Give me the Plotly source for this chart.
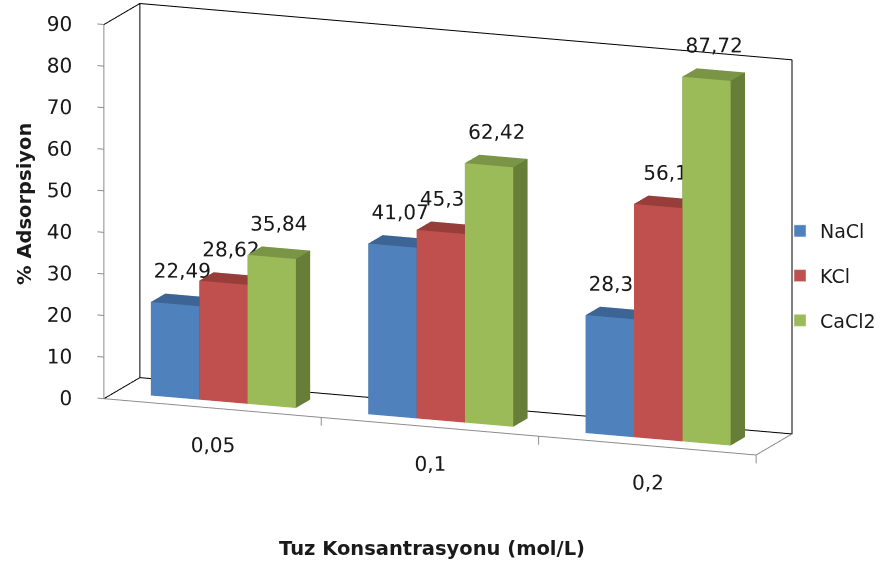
import numpy as np
import plotly.graph_objects as go

# ---- data ----
categories = ["0,05", "0,1", "0,2"]
series_names = ["NaCl", "KCl", "CaCl2"]
nacl = [22.49, 41.07, 28.37]
kcl = [28.62, 45.35, 56.1]
cacl2 = [35.84, 62.42, 87.72]
value_ticks = [0, 10, 20, 30, 40, 50, 60, 70, 80, 90]

series_values = [nacl, kcl, cacl2]
front_colors = ["#4F81BD", "#C0504D", "#9BBB59"]
top_colors = ["#3C6595", "#973E3B", "#7B9546"]
side_colors = ["#385D8A", "#8C3A38", "#667E37"]

FONT = "DejaVu Sans"
TXT = "#1a1a1a"

# ---- geometry of the 3D clustered columns ----
n_cat = len(categories)
bar_w = 1.0 / 4.5              # gap width 150 %
floor_d = 2.5 * bar_w          # gap depth 150 %
y0, y1 = floor_d / 2 - bar_w / 2, floor_d / 2 + bar_w / 2
x_lo, x_hi = -0.5, n_cat - 0.5
z_max = value_ticks[-1]
z_min = -10                    # room below the floor for category labels
x_pad = 0.1                    # room left of the value axis for its labels

# unit cube vertices and triangles
cube_v = np.array([[0, 0, 0], [1, 0, 0], [1, 1, 0], [0, 1, 0],
                   [0, 0, 1], [1, 0, 1], [1, 1, 1], [0, 1, 1]], float)
faces = {
    "front": [(0, 1, 5), (0, 5, 4)],
    "back": [(3, 2, 6), (3, 6, 7)],
    "top": [(4, 5, 6), (4, 6, 7)],
    "bottom": [(0, 1, 2), (0, 2, 3)],
    "right": [(1, 2, 6), (1, 6, 5)],
    "left": [(0, 3, 7), (0, 7, 4)],
}

fig = go.Figure()

for s, (name, vals) in enumerate(zip(series_names, series_values)):
    X, Y, Z, I, J, K, FC = [], [], [], [], [], [], []
    for c, v in enumerate(vals):
        bx0 = c - 1.5 * bar_w + s * bar_w
        base = len(X)
        for vx, vy, vz in cube_v:
            X.append(bx0 + vx * bar_w)
            Y.append(y0 + vy * (y1 - y0))
            Z.append(vz * v)
        for fname, tris in faces.items():
            col = {"top": top_colors[s], "right": side_colors[s],
                   "left": side_colors[s]}.get(fname, front_colors[s])
            for a, b, d in tris:
                I.append(base + a); J.append(base + b); K.append(base + d)
                FC.append(col)
    fig.add_trace(go.Mesh3d(
        x=X, y=Y, z=Z, i=I, j=J, k=K, facecolor=FC, flatshading=True,
        lighting=dict(ambient=1, diffuse=0, specular=0, roughness=1, fresnel=0),
        hoverinfo="skip", showlegend=False, name=name))

# value labels above the columns
lx, ly, lz, lt = [], [], [], []
for s, vals in enumerate(series_values):
    for c, v in enumerate(vals):
        lx.append(c - 1.5 * bar_w + (s + 0.5) * bar_w)
        ly.append((y0 + y1) / 2)
        lz.append(v)
        lt.append(f"{v:g}".replace(".", ","))
fig.add_trace(go.Scatter3d(
    x=lx, y=ly, z=lz, text=lt, mode="text", textposition="top center",
    textfont=dict(family=FONT, size=20, color=TXT),
    hoverinfo="skip", showlegend=False))


def seg(pts, color, width=2):
    xs, ys, zs = zip(*pts)
    fig.add_trace(go.Scatter3d(x=xs, y=ys, z=zs, mode="lines",
                               line=dict(color=color, width=width),
                               hoverinfo="skip", showlegend=False))


# walls and floor outline
BLACK, GRAY = "#000000", "#8c8c8c"
seg([(x_lo, floor_d, 0), (x_hi, floor_d, 0), (x_hi, floor_d, z_max),
     (x_lo, floor_d, z_max), (x_lo, floor_d, 0)], BLACK)
seg([(x_lo, 0, z_max), (x_lo, floor_d, z_max)], BLACK)
seg([(x_lo, 0, 0), (x_lo, floor_d, 0)], BLACK)
seg([(x_lo, 0, 0), (x_lo, 0, z_max)], GRAY)
seg([(x_lo, 0, 0), (x_hi, 0, 0), (x_hi, floor_d, 0)], GRAY)

# value axis ticks and labels
tick_dx = 0.03
for t in value_ticks:
    seg([(x_lo, 0, t), (x_lo - tick_dx, 0, t)], GRAY)
fig.add_trace(go.Scatter3d(
    x=[x_lo - 2 * tick_dx] * len(value_ticks), y=[0] * len(value_ticks),
    z=value_ticks, text=[str(t) for t in value_ticks], mode="text",
    textposition="middle left", textfont=dict(family=FONT, size=20, color=TXT),
    hoverinfo="skip", showlegend=False))

# category axis ticks (between categories) and labels
for b in np.arange(x_lo + 1, x_hi + 0.5, 1.0):
    seg([(b, 0, 0), (b, 0, -2)], GRAY)
fig.add_trace(go.Scatter3d(
    x=list(range(n_cat)), y=[0] * n_cat, z=[-9] * n_cat, text=categories,
    mode="text", textposition="middle center",
    textfont=dict(family=FONT, size=20, color=TXT),
    hoverinfo="skip", showlegend=False))

# legend entries
for name, col in zip(series_names, front_colors):
    fig.add_trace(go.Bar(x=[None], y=[None], name=name, marker_color=col,
                         legendgroup=name, xaxis="x", yaxis="y"))

axis_common = dict(showgrid=False, zeroline=False, showbackground=False,
                   showspikes=False, showline=False, ticks="",
                   showticklabels=False, title=dict(text=""))

# ---- orthographic camera ----
az, el = np.radians(21.0), np.radians(13.0)
d = np.array([np.cos(el) * np.sin(az), -np.cos(el) * np.cos(az), np.sin(el)])
r_vec = np.array([np.cos(az), np.sin(az), 0.0])
u_vec = np.array([-np.sin(el) * np.sin(az), np.sin(el) * np.cos(az), np.cos(el)])

S = 283.0                          # pixels per normalised scene unit
depth_px = 100.0
z_px = 4.15
px_x = 217.0 / np.cos(az)          # pixels per category
px_y = depth_px / floor_d          # pixels per unit of depth
px_z = z_px / np.cos(el)           # pixels per percent
# ranges padded slightly so outline edges never sit on the clip planes
x_rng = [x_lo - x_pad, x_hi + 0.03]
y_rng = [-0.02, floor_d + 0.02]
z_rng = [z_min, z_max + 1.5]
spans = np.array([x_rng[1] - x_rng[0], y_rng[1] - y_rng[0], z_rng[1] - z_rng[0]])
px = np.array([px_x, px_y, px_z])
aspect = px * spans / S

# place the front-left floor corner so the back wall top just fits
rise = depth_px * np.sin(el) * np.cos(az)
scn_c = np.array([np.mean(x_rng), np.mean(y_rng), np.mean(z_rng)])
p_corner = (np.array([x_lo, 0.0, 0.0]) - scn_c) * px / S
target_x, target_y = 107.0 + 13.0, 4.0 + rise + z_max * z_px
ctr = (p_corner - ((target_x - 440.5) / S) * r_vec
       - ((283.5 - target_y) / S) * u_vec)
eye = ctr + 4.0 * d

fig.update_layout(
    width=881, height=567,
    margin=dict(l=0, r=0, t=0, b=0),
    paper_bgcolor="white", plot_bgcolor="rgba(0,0,0,0)",
    font=dict(family=FONT, size=20, color=TXT),
    xaxis=dict(visible=False), yaxis=dict(visible=False),
    scene=dict(
        domain=dict(x=[0, 1], y=[0, 1]),
        xaxis=dict(axis_common, range=x_rng),
        yaxis=dict(axis_common, range=y_rng),
        zaxis=dict(axis_common, range=z_rng),
        aspectmode="manual",
        aspectratio=dict(x=aspect[0], y=aspect[1], z=aspect[2]),
        camera=dict(projection=dict(type="orthographic"),
                    eye=dict(x=eye[0], y=eye[1], z=eye[2]),
                    center=dict(x=ctr[0], y=ctr[1], z=ctr[2]),
                    up=dict(x=0, y=0, z=1)),
        bgcolor="white",
    ),
    legend=dict(x=0.918, y=0.626, xanchor="left", yanchor="top",
                font=dict(family=FONT, size=19, color=TXT),
                tracegroupgap=17, bgcolor="rgba(0,0,0,0)"),
    annotations=[
        dict(text="<b>% Adsorpsiyon</b>", x=0.028, y=0.640, xref="paper",
             yref="paper", xanchor="center", yanchor="middle", textangle=-90,
             showarrow=False, font=dict(family=FONT, size=19.5, color=TXT)),
        dict(text="<b>Tuz Konsantrasyonu (mol/L)</b>", x=0.508, y=0.0335,
             xref="paper", yref="paper", xanchor="center", yanchor="middle",
             showarrow=False, font=dict(family=FONT, size=19.5, color=TXT)),
    ],
)

fig.write_html("out.html")
